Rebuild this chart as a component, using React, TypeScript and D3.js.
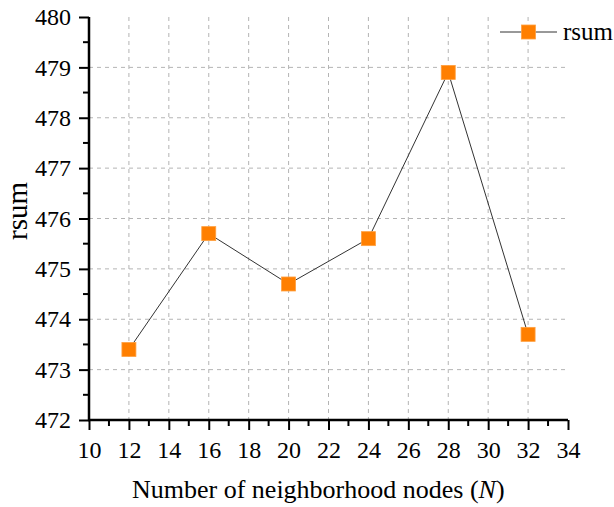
import React, { useEffect, useRef } from "react";
import * as d3 from "d3";

const nodes = [12, 16, 20, 24, 28, 32];
const rsum = [473.4, 475.7, 474.7, 475.6, 478.9, 473.7];
const xTicks = [10, 12, 14, 16, 18, 20, 22, 24, 26, 28, 30, 32, 34];
const yTicks = [472, 473, 474, 475, 476, 477, 478, 479, 480];

export default function App() {
  const ref = useRef<SVGSVGElement>(null);

  useEffect(() => {
    if (!ref.current) return;
    const svg = d3.select(ref.current);
    svg.selectAll("*").remove();

    const W = 614;
    const H = 507;
    const margin = { top: 17, right: 46, bottom: 87, left: 89 };
    const width = W - margin.left - margin.right;
    const height = H - margin.top - margin.bottom;
    const font = "Liberation Serif, Times New Roman, serif";

    const g = svg.append("g").attr("transform", `translate(${margin.left},${margin.top})`);

    const x = d3.scaleLinear().domain([10, 34]).range([0, width]);
    const y = d3.scaleLinear().domain([472, 480]).range([height, 0]);

    // grid
    g.append("g")
      .selectAll("line")
      .data(xTicks.filter((t) => t > 10 && t < 34))
      .join("line")
      .attr("x1", (d) => x(d))
      .attr("x2", (d) => x(d))
      .attr("y1", 0)
      .attr("y2", height)
      .attr("stroke", "#b4b4b4")
      .attr("stroke-width", 1)
      .attr("stroke-dasharray", "4,4");

    g.append("g")
      .selectAll("line")
      .data(yTicks.filter((t) => t > 472 && t < 480))
      .join("line")
      .attr("x1", 0)
      .attr("x2", width)
      .attr("y1", (d) => y(d))
      .attr("y2", (d) => y(d))
      .attr("stroke", "#b4b4b4")
      .attr("stroke-width", 1)
      .attr("stroke-dasharray", "4,4");

    // minor ticks
    const xMinor = d3.range(11, 34, 2);
    const yMinor = d3.range(472.5, 480, 1);

    const xAxis = g.append("g").attr("transform", `translate(0,${height})`);
    xAxis.call(
      d3.axisBottom(x).tickValues(xTicks).tickSize(10).tickPadding(11).tickFormat(d3.format("d"))
    );
    xAxis.append("g")
      .selectAll("line")
      .data(xMinor)
      .join("line")
      .attr("x1", (d) => x(d))
      .attr("x2", (d) => x(d))
      .attr("y1", 0)
      .attr("y2", 6)
      .attr("stroke", "#000")
      .attr("stroke-width", 2);

    const yAxis = g.append("g");
    yAxis.call(
      d3.axisLeft(y).tickValues(yTicks).tickSize(10).tickPadding(8).tickFormat(d3.format("d"))
    );
    yAxis.append("g")
      .selectAll("line")
      .data(yMinor)
      .join("line")
      .attr("x1", 0)
      .attr("x2", -6)
      .attr("y1", (d) => y(d))
      .attr("y2", (d) => y(d))
      .attr("stroke", "#000")
      .attr("stroke-width", 2);

    [xAxis, yAxis].forEach((a) => {
      a.attr("font-family", font).attr("font-size", 24);
      a.select(".domain").attr("stroke", "#000").attr("stroke-width", 2.5);
      a.selectAll(".tick line").attr("stroke", "#000").attr("stroke-width", 2);
      a.selectAll(".tick text").attr("fill", "#000");
    });
    yAxis.select(".domain").attr("d", `M0,${height + 1}V0`);
    xAxis.select(".domain").attr("d", `M-1,0H${width}`);

    // line
    const line = d3
      .line<number>()
      .x((_, i) => x(nodes[i]))
      .y((d) => y(d));

    g.append("path")
      .datum(rsum)
      .attr("fill", "none")
      .attr("stroke", "#333")
      .attr("stroke-width", 1)
      .attr("d", line);

    const size = 14;
    g.append("g")
      .selectAll("rect")
      .data(rsum)
      .join("rect")
      .attr("x", (_, i) => x(nodes[i]) - size / 2)
      .attr("y", (d) => y(d) - size / 2)
      .attr("width", size)
      .attr("height", size)
      .attr("fill", "#ff7f00")
      .attr("stroke", "#ffa040")
      .attr("stroke-width", 0.8);

    // legend
    const lg = svg.append("g").attr("transform", "translate(500,32)");
    lg.append("line").attr("x1", 0).attr("x2", 57).attr("y1", 0).attr("y2", 0).attr("stroke", "#333").attr("stroke-width", 1);
    lg.append("rect")
      .attr("x", 28.5 - size / 2)
      .attr("y", -size / 2)
      .attr("width", size)
      .attr("height", size)
      .attr("fill", "#ff7f00")
      .attr("stroke", "#ffa040")
      .attr("stroke-width", 0.8);
    lg.append("text")
      .attr("x", 63)
      .attr("y", 8)
      .attr("font-family", font)
      .attr("font-size", 25)
      .text("rsum");

    // axis titles
    svg.append("text")
      .attr("x", 132)
      .attr("y", 498)
      .attr("font-family", font)
      .attr("font-size", 26)
      .html("Number of neighborhood nodes (<tspan font-style='italic'>N</tspan>)");

    svg.append("text")
      .attr("transform", `translate(27,211) rotate(-90)`)
      .attr("text-anchor", "middle")
      .attr("font-family", font)
      .attr("font-size", 29)
      .text("rsum");
  }, []);

  return (
    <svg
      ref={ref}
      width={614}
      height={507}
      style={{ position: "absolute", left: 0, top: 0, background: "#fff" }}
    />
  );
}
